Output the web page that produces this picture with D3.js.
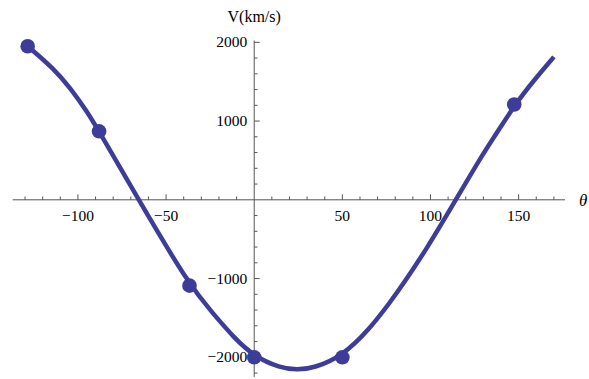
<!DOCTYPE html>
<html>
<head>
<meta charset="utf-8">
<script src="https://cdn.jsdelivr.net/npm/d3@7"></script>
<style>
  html, body { margin: 0; padding: 0; background: #fff; }
  svg text { font-family: "Liberation Serif", "DejaVu Serif", serif; }
</style>
</head>
<body>
<svg id="chart" width="589" height="379"></svg>
<script>
// Fitted curve samples (theta in degrees, V in km/s)
const curveTheta = [-128.5, -113.7, -104.2, -94.8, -88, -65.6, -36.7, -23.1, -11.7, 0, 14.7, 24.2, 33.7, 50, 65.7, 77.1, 84.6, 97.8, 114.4, 130, 139.4, 147.5, 158.2, 170];
const curveV     = [1950, 1666, 1416, 1119, 870, 0, -1090, -1450, -1745, -1990, -2135, -2161, -2138, -1985, -1635, -1300, -1065, -625, 0, 595, 910, 1195, 1505, 1815];

// Observed points
const pointTheta = [-128.5, -88, -36.7, 0, 50, 147.5];
const pointV     = [1950, 870, -1090, -2000, -2000, 1210];

// Ticks
const xMajorTicks = [-100, -50, 50, 100, 150];
const xMinorTicks = d3.range(-130, 171, 10).filter(d => d !== 0 && d % 50 !== 0);
const yMajorTicks = [-2000, -1000, 1000, 2000];
const yMinorTicks = d3.range(-2200, 2001, 200).filter(d => d !== 0 && d % 1000 !== 0);

const xLabel = "θ";
const yLabel = "V(km/s)";

const color = "#3d3d99";
const axisColor = "#555";

const svg = d3.select("#chart");
const x = d3.scaleLinear().domain([-137, 176.3]).range([12.7, 565]);
const y = d3.scaleLinear().domain([-2250, 2023]).range([377, 40.5]);

const x0 = x(0), y0 = y(0);

// Axes lines
svg.append("line").attr("x1", x.range()[0]).attr("x2", x.range()[1])
  .attr("y1", y0).attr("y2", y0).attr("stroke", axisColor).attr("stroke-width", 1);
svg.append("line").attr("x1", x0).attr("x2", x0)
  .attr("y1", y.range()[0]).attr("y2", y.range()[1]).attr("stroke", axisColor).attr("stroke-width", 1);

// x ticks (pointing up)
svg.append("g").selectAll("line").data(xMajorTicks).join("line")
  .attr("x1", d => x(d)).attr("x2", d => x(d))
  .attr("y1", y0).attr("y2", y0 - 5.5).attr("stroke", axisColor);
svg.append("g").selectAll("line").data(xMinorTicks).join("line")
  .attr("x1", d => x(d)).attr("x2", d => x(d))
  .attr("y1", y0).attr("y2", y0 - 3.3).attr("stroke", axisColor);
svg.append("g").selectAll("text").data(xMajorTicks).join("text")
  .attr("x", d => x(d)).attr("y", y0 + 21)
  .attr("text-anchor", "middle").attr("font-size", 15.5).attr("fill", "#000")
  .text(d => d < 0 ? "\u2212" + Math.abs(d) : d);

// y ticks (pointing right)
svg.append("g").selectAll("line").data(yMajorTicks).join("line")
  .attr("x1", x0).attr("x2", x0 + 5.5)
  .attr("y1", d => y(d)).attr("y2", d => y(d)).attr("stroke", axisColor);
svg.append("g").selectAll("line").data(yMinorTicks).join("line")
  .attr("x1", x0).attr("x2", x0 + 3.3)
  .attr("y1", d => y(d)).attr("y2", d => y(d)).attr("stroke", axisColor);
svg.append("g").selectAll("text").data(yMajorTicks).join("text")
  .attr("x", x0 - 7).attr("y", d => y(d) + 5)
  .attr("text-anchor", "end").attr("font-size", 15.5).attr("fill", "#000")
  .text(d => d < 0 ? "\u2212" + Math.abs(d) : d);

// Axis labels
svg.append("text").attr("x", x0).attr("y", 22).attr("text-anchor", "middle")
  .attr("font-size", 16).attr("fill", "#000").text(yLabel);
svg.append("text").attr("x", 579).attr("y", y0 + 6).attr("text-anchor", "start")
  .attr("font-size", 17).attr("font-style", "italic").attr("fill", "#000").text(xLabel);

// Curve
const curveData = curveTheta.map((t, i) => [t, curveV[i]]);
const line = d3.line().x(d => x(d[0])).y(d => y(d[1])).curve(d3.curveBasis);
svg.append("path").datum(curveData).attr("d", line)
  .attr("fill", "none").attr("stroke", color).attr("stroke-width", 4.5)
  .attr("stroke-linecap", "butt").attr("stroke-linejoin", "round");

// Points
const pts = pointTheta.map((t, i) => [t, pointV[i]]);
svg.append("g").selectAll("circle").data(pts).join("circle")
  .attr("cx", d => x(d[0])).attr("cy", d => y(d[1])).attr("r", 7.3)
  .attr("fill", color);
</script>
</body>
</html>
